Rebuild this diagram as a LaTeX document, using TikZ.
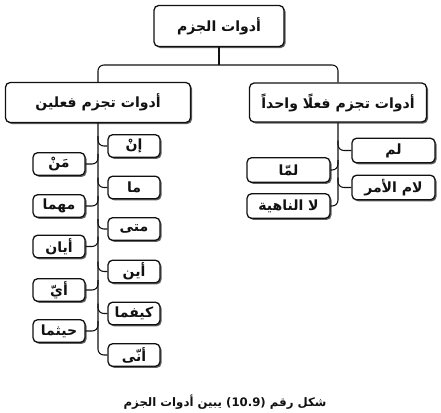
\documentclass[tikz,border=0pt]{standalone}
\usepackage{fontspec}
\usepackage{xcolor}
\usepackage{tikz}
\usetikzlibrary{shadows}
\newfontfamily\arabicfont[Script=Arabic]{DejaVu Sans}
\TeXXeTstate=1
\definecolor{ink}{HTML}{111111}
\definecolor{shade}{HTML}{444444}
\newcommand{\artext}[1]{\arabicfont\bfseries\beginR #1\endR}
\tikzset{
  link/.style={draw=ink, line width=0.9pt, rounded corners=5pt},
  headbox/.style={draw=ink, line width=1.1pt, rounded corners=4pt, fill=white,
    drop shadow={shadow xshift=1.3pt, shadow yshift=-1.3pt, fill=shade, opacity=0.85},
    minimum height=1.2cm, inner sep=0pt, text=ink, font=\large},
  itembox/.style={headbox, minimum width=1.56cm, minimum height=0.68cm},
  rightbox/.style={headbox, minimum width=2.49cm, minimum height=0.74cm},
  caption/.style={text=ink, font=\normalsize}
}

\begin{document}
\begin{tikzpicture}[x=0.03cm, y=-0.03cm]
  \useasboundingbox (0,0) rectangle (441,412);

  \node[headbox, minimum width=3.9cm, minimum height=1.23cm] (top) at (219,26) {\artext{أدوات الجزم}};
  \node[headbox, minimum width=5.55cm] (left) at (98,102.5) {\artext{أدوات تجزم فعلين}};
  \node[headbox, minimum width=5.31cm, minimum height=1.17cm] (right) at (338,102.5) {\artext{أدوات تجزم فعلًا واحداً}};

  \coordinate (bus) at (219,65);
  \draw[link] (left.north) -- (left.north |- bus) -- (right.north |- bus) -- (right.north);
  \draw[link] (top.south) -- (top.south |- bus);

  % two verbs
  \node[itembox] (in) at (134,146) {\artext{إنْ}};
  \node[itembox] (ma) at (134,187.5) {\artext{ما}};
  \node[itembox] (mata) at (134,229) {\artext{متى}};
  \node[itembox] (ayna) at (134,271.5) {\artext{أين}};
  \node[itembox] (kayfama) at (134,313.5) {\artext{كيفما}};
  \node[itembox] (anna) at (134,355) {\artext{أنّى}};
  \node[itembox] (man) at (59,164) {\artext{مَنْ}};
  \node[itembox] (mahma) at (59,206) {\artext{مهما}};
  \node[itembox] (ayyan) at (59,246.5) {\artext{أيان}};
  \node[itembox] (ayy) at (59,290) {\artext{أيّ}};
  \node[itembox] (haythuma) at (59,331) {\artext{حيثما}};

  \coordinate (ltrunk) at (98,123);
  \draw[link] (left.south) |- (anna.west);
  \foreach \n in {in,ma,mata,ayna,kayfama}
    \draw[link] (\n.west) -- (\n.west -| ltrunk) -- ++(0,-10);
  \foreach \n in {man,mahma,ayyan,ayy,haythuma}
    \draw[link] (\n.east) -- (\n.east -| ltrunk) -- ++(0,-10);

  % one verb
  \node[rightbox] (lam) at (393.5,150.5) {\artext{لم}};
  \node[rightbox] (lamamr) at (393.5,187.5) {\artext{لام الأمر}};
  \node[rightbox] (lamma) at (288.5,170) {\artext{لمّا}};
  \node[rightbox] (lanahia) at (288.5,206) {\artext{لا الناهية}};

  \coordinate (rtrunk) at (338,122);
  \draw[link] (right.south) |- (lanahia.east);
  \foreach \n in {lam,lamamr}
    \draw[link] (\n.west) -- (\n.west -| rtrunk) -- ++(0,-10);
  \draw[link] (lamma.east) -- (lamma.east -| rtrunk) -- ++(0,-10);

  \node[caption] (cap) at (225,402) {\artext{شكل رقم \beginL(10.9)\endL{} يبين أدوات الجزم}};
\end{tikzpicture}
\end{document}
